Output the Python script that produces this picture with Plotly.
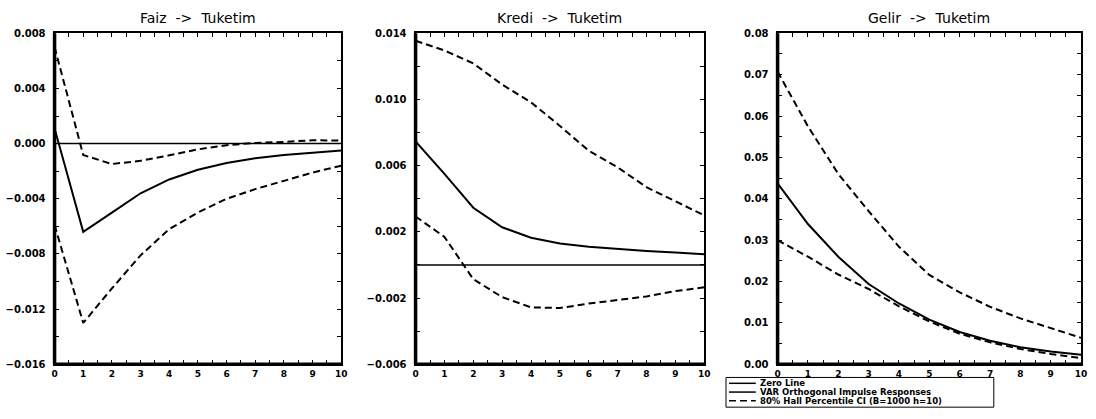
import plotly.graph_objects as go

# ---------------- data ----------------
horizon = list(range(11))
zero_line = [0.0] * 11

faiz_resp = [0.0011, -0.0064, -0.0050, -0.0036, -0.0026, -0.0019, -0.0014, -0.00106, -0.00083, -0.00066, -0.0005]
faiz_upper = [0.0070, -0.00083, -0.00148, -0.00125, -0.00085, -0.00042, -0.00012, 0.00005, 0.00012, 0.00024, 0.00022]
faiz_lower = [-0.0059, -0.0130, -0.0105, -0.0081, -0.0062, -0.0050, -0.0040, -0.0033, -0.0027, -0.0021, -0.0016]

kredi_resp = [0.00747, 0.0055, 0.00346, 0.00228, 0.00165, 0.0013, 0.0011, 0.00096, 0.00085, 0.00075, 0.00065]
kredi_upper = [0.01355, 0.01296, 0.01218, 0.0109, 0.00983, 0.0084, 0.0069, 0.0059, 0.0047, 0.00385, 0.0030]
kredi_lower = [0.00293, 0.0017, -0.00086, -0.00194, -0.00256, -0.0026, -0.00233, -0.0021, -0.0019, -0.00158, -0.00135]

gelir_resp = [0.0437, 0.0339, 0.026, 0.0194, 0.0147, 0.0108, 0.0078, 0.0057, 0.0041, 0.0031, 0.0023]
gelir_upper = [0.0707, 0.0575, 0.046, 0.037, 0.0284, 0.0216, 0.0174, 0.0139, 0.0111, 0.0088, 0.0064]
gelir_lower = [0.030, 0.026, 0.0217, 0.0182, 0.014, 0.01035, 0.0074, 0.0053, 0.0037, 0.0025, 0.0015]

titles = ["Faiz -> Tuketim", "Kredi -> Tuketim", "Gelir -> Tuketim"]
legend_names = ["Zero Line", "VAR Orthogonal Impulse Responses", "80% Hall Percentile CI (B=1000 h=10)"]

# y-axis ranges, tick step and label step per panel
y_ranges = [(-0.016, 0.008), (-0.006, 0.014), (0.0, 0.08)]
y_tick_steps = [0.002, 0.002, 0.005]
y_label_every = [2, 2, 2]
y_formats = ["{:.3f}", "{:.3f}", "{:.2f}"]

panels = [
    (faiz_resp, faiz_upper, faiz_lower),
    (kredi_resp, kredi_upper, kredi_lower),
    (gelir_resp, gelir_upper, gelir_lower),
]

# ---------------- layout geometry ----------------
W, H = 1096, 419
x_domains = [(52 / W, 341 / W), (416 / W, 707 / W), (781 / W, 1087 / W)]
y_domain = (1 - 369 / H, 1 - 29 / H)

FONT = "DejaVu Sans"
DASH = "7px,4px"

fig = go.Figure()

for i, (resp, up, lo) in enumerate(panels):
    xa = "x" if i == 0 else f"x{i+1}"
    ya = "y" if i == 0 else f"y{i+1}"
    fig.add_trace(go.Scatter(x=horizon, y=zero_line, mode="lines", xaxis=xa, yaxis=ya,
                             line=dict(color="black", width=1.5), name=legend_names[0], showlegend=False))
    fig.add_trace(go.Scatter(x=horizon, y=resp, mode="lines", xaxis=xa, yaxis=ya,
                             line=dict(color="black", width=2), name=legend_names[1], showlegend=False))
    for band in (up, lo):
        fig.add_trace(go.Scatter(x=horizon, y=band, mode="lines", xaxis=xa, yaxis=ya,
                                 line=dict(color="black", width=2, dash=DASH),
                                 name=legend_names[2], showlegend=False))

    # x axis ticks every 0.5, labels at integers
    xt = [k * 0.5 for k in range(21)]
    xl = [str(int(v)) if v == int(v) else "" for v in xt]
    # y axis ticks
    lo_r, hi_r = y_ranges[i]
    step = y_tick_steps[i]
    n = int(round((hi_r - lo_r) / step))
    yt = [lo_r + k * step for k in range(n + 1)]
    yl = []
    for k, v in enumerate(yt):
        if (n - k) % y_label_every[i] == 0:
            yl.append(y_formats[i].format(v).replace("-", "\u2212"))
        else:
            yl.append("")
    axis_common = dict(showgrid=False, zeroline=False, showline=True, linecolor="black", linewidth=2,
                       mirror="allticks", ticks="inside", ticklen=4, tickwidth=1, tickcolor="black")
    fig.update_layout(**{
        ("xaxis" if i == 0 else f"xaxis{i+1}"): dict(
            domain=x_domains[i], anchor=ya, range=[0, 10], tickmode="array", tickvals=xt, ticktext=xl,
            tickfont=dict(family=FONT, size=9, color="black", weight="bold"), ticklabelstandoff=0,
            **axis_common),
        ("yaxis" if i == 0 else f"yaxis{i+1}"): dict(
            domain=y_domain, anchor=xa, range=[lo_r, hi_r], tickmode="array", tickvals=yt, ticktext=yl,
            tickfont=dict(family=FONT, size=10, color="black", weight="bold"), ticklabelstandoff=5,
            **axis_common),
    })
    # thicker left & bottom frame edges
    fig.add_shape(type="line", xref=f"{xa} domain", yref=f"{ya} domain", x0=0, x1=0, y0=0, y1=1,
                  line=dict(color="black", width=3.5))
    fig.add_shape(type="line", xref=f"{xa} domain", yref=f"{ya} domain", x0=0, x1=1, y0=0, y1=0,
                  line=dict(color="black", width=3.5))
    # title
    fig.add_annotation(text=titles[i].replace(" ", "\u00a0\u00a0"), xref="paper", yref="paper",
                       x=(x_domains[i][0] + x_domains[i][1]) / 2, y=1 - 13 / H, xanchor="center",
                       yanchor="middle", showarrow=False,
                       font=dict(family=FONT, size=14, color="black"))

# ---------------- manual legend ----------------
box_x0, box_x1 = 729 / W, 999 / W
box_y0, box_y1 = 1 - 413 / H, 1 - 382.5 / H
fig.add_shape(type="rect", xref="paper", yref="paper", x0=box_x0, x1=box_x1, y0=box_y0, y1=box_y1,
              line=dict(color="black", width=1), fillcolor="white")
rows = [388.5, 397.5, 406.5]
dashes = ["solid", "solid", DASH]
for name, ry, dsh in zip(legend_names, rows, dashes):
    yy = 1 - ry / H
    fig.add_shape(type="line", xref="paper", yref="paper", x0=732 / W, x1=759 / W, y0=yy, y1=yy,
                  line=dict(color="black", width=1.5, dash=dsh))
    fig.add_annotation(text=name, xref="paper", yref="paper", x=762 / W, y=yy, xanchor="left",
                       yanchor="middle", showarrow=False, borderpad=0,
                       font=dict(family=FONT, size=8.5, color="black", weight="bold"))

fig.update_layout(width=W, height=H, margin=dict(l=0, r=0, t=0, b=0),
                  paper_bgcolor="white", plot_bgcolor="white", showlegend=False)

fig.write_html("out.html")
